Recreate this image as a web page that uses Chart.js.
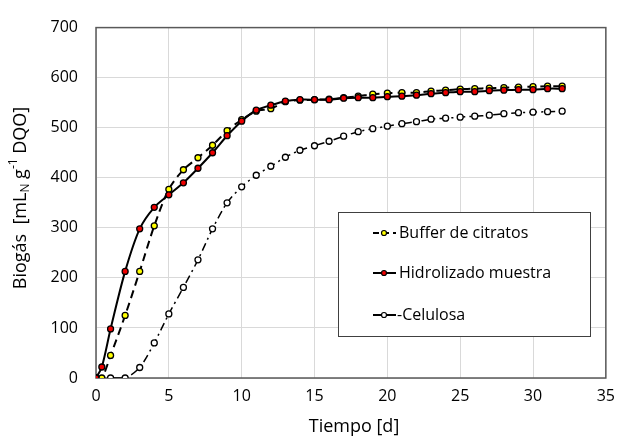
<!DOCTYPE html>
<html>
<head>
<meta charset="utf-8">
<script src="https://cdn.jsdelivr.net/npm/chart.js@4.4.1/dist/chart.umd.min.js"></script>
<style>
  html, body { margin: 0; padding: 0; background: #fff; }
  #wrap { width: 624px; height: 440px; }
</style>
</head>
<body>
<div id="wrap"><canvas id="myChart" width="624" height="440"></canvas></div>
<script>
// days (x) and biogas values
const daysHidro = [0, 0.4, 1, 2, 3, 4, 5, 6, 7, 8, 9, 10, 11, 12, 13, 14, 15, 16, 17, 18, 19, 20, 21, 22, 23, 24, 25, 26, 27, 28, 29, 30, 31, 32];
const buffer = [0, 0, 45, 125, 213, 304, 377, 416, 440, 465, 494, 516, 533, 538, 552, 555, 556, 557, 560, 563, 567, 569, 570, 570, 573, 575, 577, 578, 579, 580, 581, 582, 583, 583];
const hidrolizado = [0, 22, 98, 213, 298, 341, 366, 390, 419, 450, 484, 513, 535, 545, 553, 556, 556, 556, 559, 560, 560, 562, 563, 565, 568, 570, 572, 572, 574, 575, 576, 576, 578, 578];
const daysCelulosa = [0, 1, 2, 3, 4, 5, 6, 7, 8, 9, 10, 11, 12, 13, 14, 15, 16, 17, 18, 19, 20, 21, 22, 23, 24, 25, 26, 27, 28, 29, 30, 31, 32];
const celulosa = [0, 0, 0, 21, 70, 128, 181, 236, 298, 350, 382, 405, 423, 441, 455, 464, 473, 483, 492, 498, 503, 508, 512, 517, 519, 521, 523, 525, 528, 530, 531, 532, 533];
const seriesNames = ['Buffer de citratos', 'Hidrolizado muestra', 'Celulosa'];

const FONT = '"Open Sans", "Liberation Sans", sans-serif';

function toPoints(xs, ys) {
    return xs.map((x, i) => ({ x: x, y: ys[i] }));
}

// frame around plot area
const frame = {
    id: 'frame',
    beforeDatasetsDraw(chart) {
        const { ctx, chartArea: a } = chart;
        ctx.save();
        ctx.strokeStyle = '#595959';
        ctx.lineWidth = 1.5;
        ctx.strokeRect(a.left, a.top, a.right - a.left, a.bottom - a.top);
        ctx.restore();
    }
};

// axis titles (y title has sub/superscripts) + legend box inside the plot
const extras = {
    id: 'extras',
    afterDraw(chart) {
        const ctx = chart.ctx;
        ctx.save();
        ctx.fillStyle = '#000';
        ctx.textBaseline = 'middle';

        // x title
        ctx.font = '18px ' + FONT;
        ctx.textAlign = 'center';
        ctx.fillText('Tiempo [d]', 354, 427);

        // y title
        const parts = [
            { t: 'Biogás  [mL', s: 18, dy: 0 },
            { t: 'N', s: 12, dy: 5 },
            { t: ' g', s: 18, dy: 0 },
            { t: '-1', s: 12, dy: -7 },
            { t: ' DQO]', s: 18, dy: 0 }
        ];
        let total = 0;
        parts.forEach(p => { ctx.font = p.s + 'px ' + FONT; p.w = ctx.measureText(p.t).width; total += p.w; });
        ctx.translate(21, 198);
        ctx.rotate(-Math.PI / 2);
        ctx.textAlign = 'left';
        let x = -total / 2;
        parts.forEach(p => {
            ctx.font = p.s + 'px ' + FONT;
            ctx.fillText(p.t, x, p.dy);
            x += p.w;
        });
        ctx.setTransform(1, 0, 0, 1, 0, 0);

        // legend
        ctx.fillStyle = '#fff';
        ctx.fillRect(338, 212, 252, 124);
        ctx.strokeStyle = '#404040';
        ctx.lineWidth = 1;
        ctx.strokeRect(338.5, 212.5, 252, 124);
        const rows = [233, 273, 315];
        const order = [0, 1, 2];
        order.forEach(i => {
            const ds = chart.data.datasets[i];
            const y = rows[i];
            ctx.strokeStyle = '#000';
            ctx.lineWidth = 2;
            ctx.setLineDash(i === 0 ? [6, 4] : []);
            ctx.beginPath();
            ctx.moveTo(373, y);
            ctx.lineTo(396, y);
            ctx.stroke();
            ctx.setLineDash([]);
            ctx.beginPath();
            ctx.arc(384, y, 2.5, 0, Math.PI * 2);
            ctx.fillStyle = ds.pointBackgroundColor;
            ctx.fill();
            ctx.lineWidth = 1.2;
            ctx.stroke();
            ctx.fillStyle = '#000';
            ctx.font = '16px ' + FONT;
            ctx.fillText((i === 2 ? '-' : '') + ds.label, i === 2 ? 397 : 399, y);
        });
        ctx.restore();
    }
};

new Chart(document.getElementById('myChart'), {
    type: 'line',
    data: {
        datasets: [{
            label: seriesNames[0],
            data: toPoints(daysHidro, buffer),
            borderColor: '#000',
            borderWidth: 2,
            borderDash: [8, 5],
            pointBackgroundColor: '#ffff00',
            pointBorderColor: '#000',
            pointBorderWidth: 1.3,
            pointRadius: 3,
            tension: 0.3,
            order: 2
        }, {
            label: seriesNames[1],
            data: toPoints(daysHidro, hidrolizado),
            borderColor: '#000',
            borderWidth: 2,
            pointBackgroundColor: '#ee0000',
            pointBorderColor: '#000',
            pointBorderWidth: 1.3,
            pointRadius: 3,
            tension: 0.3,
            order: 1
        }, {
            label: seriesNames[2],
            data: toPoints(daysCelulosa, celulosa),
            borderColor: '#000',
            borderWidth: 1.5,
            borderDash: [8, 4, 2, 4],
            pointBackgroundColor: '#ffffff',
            pointBorderColor: '#000',
            pointBorderWidth: 1.3,
            pointRadius: 3,
            tension: 0.3,
            order: 3
        }]
    },
    options: {
        responsive: false,
        animation: false,
        layout: { padding: { top: 20, right: 12, left: 0, bottom: 0 } },
        plugins: {
            legend: { display: false },
            tooltip: { enabled: false }
        },
        scales: {
            x: {
                type: 'linear',
                min: 0,
                max: 35,
                ticks: { stepSize: 5, color: '#000', padding: 9, font: { family: FONT, size: 16 } },
                grid: { color: '#d9d9d9', drawTicks: false },
                border: { display: false },
                afterFit(scale) { scale.height = 62; }
            },
            y: {
                min: 0,
                max: 700,
                ticks: { stepSize: 100, color: '#000', padding: 18, font: { family: FONT, size: 16 } },
                grid: { color: '#d9d9d9', drawTicks: false },
                border: { display: false },
                afterFit(scale) { scale.width = 96; }
            }
        }
    },
    plugins: [frame, extras]
});
</script>
</body>
</html>
